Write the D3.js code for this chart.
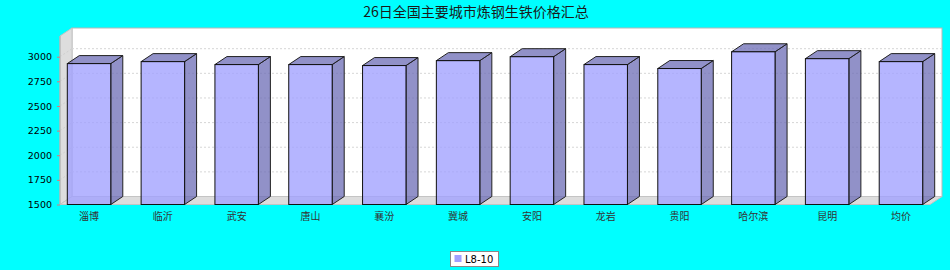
<!DOCTYPE html>
<html><head><meta charset="utf-8">
<script src="https://cdn.jsdelivr.net/npm/d3@7/dist/d3.min.js"></script>
<style>html,body{margin:0;padding:0;background:#00ffff;}svg{display:block;}</style>
</head><body>
<script>
const title = "26日全国主要城市炼钢生铁价格汇总";
const categories = ["淄博","临沂","武安","唐山","襄汾","冀城","安阳","龙岩","贵阳","哈尔滨","昆明","均价"];
const seriesName = "L8-10";
const values = [2930, 2950, 2920, 2920, 2910, 2960, 3000, 2920, 2880, 3050, 2980, 2950];
const yTicks = [1500, 1750, 2000, 2250, 2500, 2750, 3000];

(function () {
const W = 950, H = 270;
const pL = 60, pR = 930, pT = 36, pB = 204.5;
const dx = 12, dy = -8;

const svg = d3.select("body").append("svg").attr("width", W).attr("height", H);
svg.append("rect").attr("width", W).attr("height", H).attr("fill", "#00ffff");

svg.append("text").attr("x", 476).attr("y", 17).attr("text-anchor", "middle")
  .attr("font-family", "'Noto Sans CJK SC', sans-serif").attr("font-size", 14)
  .attr("fill", "#1a1a1a").text(title);

const y = d3.scaleLinear().domain([1500, 3210]).range([pB, pT]);
const x = d3.scaleBand().domain(categories).range([pL, pR]).paddingInner(0.411).paddingOuter(0.099);

// back wall
svg.append("rect").attr("x", pL + dx).attr("y", pT + dy).attr("width", pR - pL)
  .attr("height", pB - pT).attr("fill", "#ffffff").attr("stroke", "#b8b8b8").attr("stroke-width", 1);
// left wall
svg.append("polygon").attr("points", [[pL, pT], [pL + dx, pT + dy], [pL + dx, pB + dy], [pL, pB]].join(" "))
  .attr("fill", "#dddddd").attr("stroke", "#c4c4c4").attr("stroke-width", 1);
// floor
svg.append("polygon").attr("points", [[pL, pB], [pL + dx, pB + dy], [pR + dx, pB + dy], [pR, pB]].join(" "))
  .attr("fill", "#dddddd").attr("stroke", "#c4c4c4").attr("stroke-width", 1);

// gridlines on back wall
svg.append("g").selectAll("line").data(yTicks.filter(t => t > 1500)).join("line")
  .attr("x1", pL + dx).attr("x2", pR + dx)
  .attr("y1", d => y(d) + dy).attr("y2", d => y(d) + dy)
  .attr("stroke", "#d6d6d6").attr("stroke-width", 1).attr("stroke-dasharray", "2,2");
// gridlines on left wall
svg.append("g").selectAll("line").data(yTicks.filter(t => t > 1500)).join("line")
  .attr("x1", pL).attr("x2", pL + dx)
  .attr("y1", d => y(d)).attr("y2", d => y(d) + dy)
  .attr("stroke", "#cfcfcf").attr("stroke-width", 1).attr("stroke-dasharray", "2,2");

// y axis
const yAxis = d3.axisLeft(y).tickValues(yTicks).tickFormat(d3.format("d")).tickSize(3).tickPadding(5);
const gy = svg.append("g").attr("transform", `translate(${pL},0)`).call(yAxis);
gy.select(".domain").attr("stroke", "#b0b0b0").attr("d", `M0,${pT}V${pB}`);
gy.selectAll(".tick line").attr("stroke", "#e07878");
gy.selectAll(".tick text").attr("font-family", "'DejaVu Sans', sans-serif").attr("font-size", 9.5).attr("fill", "#000");

// bars
const bars = svg.append("g");
const bw = x.bandwidth();
categories.forEach((c, i) => {
  const x0 = x(c), y0 = y(values[i]), yb = y(1500);
  const g = bars.append("g");
  g.append("polygon").attr("points", [[x0 + bw, y0], [x0 + bw + dx, y0 + dy], [x0 + bw + dx, yb + dy], [x0 + bw, yb]].join(" "))
    .attr("fill", "#6c6cb6").attr("fill-opacity", 0.75).attr("stroke", "#222").attr("stroke-width", 1);
  g.append("polygon").attr("points", [[x0, y0], [x0 + dx, y0 + dy], [x0 + bw + dx, y0 + dy], [x0 + bw, y0]].join(" "))
    .attr("fill", "#6c6cb6").attr("fill-opacity", 0.75).attr("stroke", "#222").attr("stroke-width", 1);
  g.append("rect").attr("x", x0).attr("y", y0).attr("width", bw).attr("height", yb - y0)
    .attr("fill", "#a0a0ff").attr("fill-opacity", 0.78).attr("stroke", "#111").attr("stroke-width", 1);
});

// category labels
const xAxis = d3.axisBottom(x).tickSize(0).tickPadding(8);
const gx = svg.append("g").attr("transform", `translate(0,${pB})`).call(xAxis);
gx.select(".domain").remove();
gx.selectAll(".tick text").attr("font-family", "'Noto Sans CJK SC', sans-serif").attr("font-size", 10).attr("fill", "#333");

// legend
const lg = svg.append("g");
lg.append("rect").attr("x", 450.5).attr("y", 251.5).attr("width", 48).attr("height", 15)
  .attr("fill", "#fff").attr("stroke", "#888").attr("stroke-width", 1);
lg.append("rect").attr("x", 454.5).attr("y", 255).attr("width", 7).attr("height", 7).attr("fill", "#a0a0ff");
lg.append("text").attr("x", 465).attr("y", 263).attr("font-family", "'DejaVu Sans', sans-serif")
  .attr("font-size", 10).attr("fill", "#000").text(seriesName);
})();
</script>
</body></html>
